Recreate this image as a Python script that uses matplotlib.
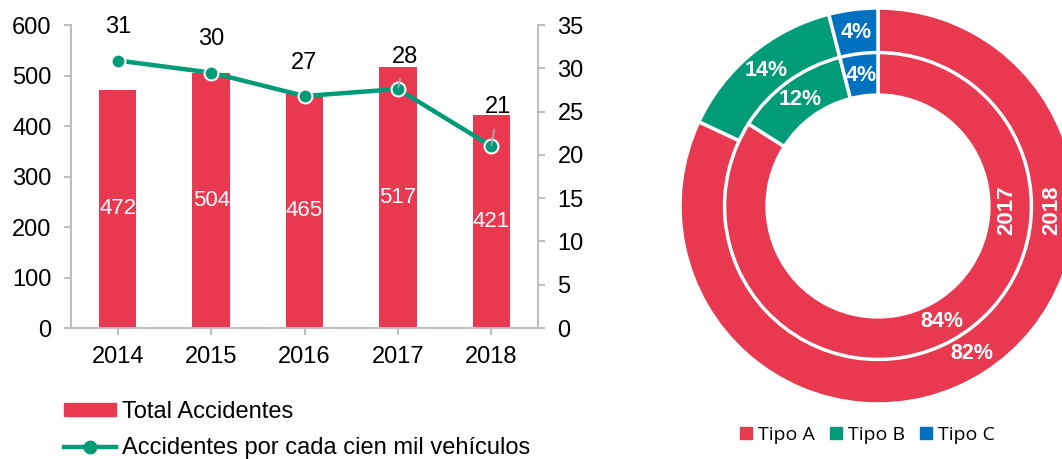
import matplotlib
matplotlib.use('Agg')
import matplotlib.pyplot as plt
from matplotlib.patches import Patch
from matplotlib.lines import Line2D

plt.rcParams['font.family'] = ['Liberation Sans', 'DejaVu Sans']

# data
years = ['2014', '2015', '2016', '2017', '2018']
total_accidentes = [472, 504, 465, 517, 421]
tasa = [30.9, 29.5, 26.8, 27.6, 21.0]
tasa_labels = ['31', '30', '27', '28', '21']

tipos = ['Tipo A', 'Tipo B', 'Tipo C']
share_2018 = [82, 14, 4]
share_2017 = [84, 12, 4]

red = '#E93950'
green = '#009B77'
blue = '#0070C0'
grey = '#BFBFBF'

fig = plt.figure(figsize=(10.62, 4.59), dpi=100)

# bars + line
ax1 = fig.add_axes([0.0669, 0.2854, 0.4397, 0.6601])
x = range(len(years))
bars = ax1.bar(x, total_accidentes, width=0.4, color=red, zorder=2)
ax1.bar_label(bars, labels=[str(v) for v in total_accidentes], label_type='center',
              color='white', fontsize=16)
ax1.set_ylim(0, 600)
ax1.set_xlim(-0.5, 4.5)
ax1.set_yticks(range(0, 601, 100))
ax1.set_xticks(list(x))
ax1.set_xticklabels(years)
for s in ['top', 'right']:
    ax1.spines[s].set_visible(False)
for s in ['left', 'bottom']:
    ax1.spines[s].set_color(grey)
    ax1.spines[s].set_linewidth(1.5)
ax1.tick_params(axis='y', colors=grey, labelcolor='black', labelsize=17, length=5, width=1.5, pad=9)
ax1.tick_params(axis='x', colors=grey, labelcolor='black', labelsize=17, length=5, width=1.5, pad=8)

ax2 = ax1.twinx()
ax2.plot(x, tasa, color=green, lw=3.2, marker='o', markersize=10,
         markerfacecolor=green, markeredgecolor='white', markeredgewidth=1.5, zorder=3)
ax2.set_ylim(0, 35)
ax2.set_yticks(range(0, 36, 5))
for s in ['top', 'left', 'bottom']:
    ax2.spines[s].set_visible(False)
ax2.spines['right'].set_color(grey)
ax2.spines['right'].set_linewidth(1.5)
ax2.tick_params(axis='y', colors=grey, labelcolor='black', labelsize=17, length=5, width=1.5, pad=9)

offsets = [(0, 24), (0, 24), (0, 24), (5, 23), (5, 28)]
for i, (v, lab) in enumerate(zip(tasa, tasa_labels)):
    leader = i >= 3
    ax2.annotate(lab, (i, v), xytext=offsets[i], textcoords='offset points',
                 ha='center', va='center', fontsize=17, zorder=5,
                 arrowprops=dict(arrowstyle='-', color='#A6A6A6', lw=1.3,
                                 shrinkA=6, shrinkB=1) if leader else None)

handles = [Patch(color=red),
           Line2D([0], [0], color=green, lw=3.2, marker='o', markersize=9)]
fig.legend(handles, ['Total Accidentes', 'Accidentes por cada cien mil veh\u00edculos'],
           loc='upper left', bbox_to_anchor=(0.060, 0.127), frameon=False,
           fontsize=17, handlelength=2.2, handleheight=0.45, handletextpad=0.25,
           labelspacing=0.62, borderpad=0, borderaxespad=0)

# donut
ax3 = fig.add_axes([680 / 1062, 55 / 459, 396 / 1062, 396 / 459])
cols = [red, green, blue]
wp = dict(edgecolor='white', linewidth=2.5)
tp = dict(color='white', fontsize=15.5, fontweight='bold')
ax3.pie(share_2018, radius=1.0, colors=cols, startangle=90, counterclock=False,
        wedgeprops=dict(width=0.23, **wp), autopct='%d%%', pctdistance=0.885,
        textprops=tp)
ax3.pie(share_2017, radius=0.775, colors=cols, startangle=90, counterclock=False,
        wedgeprops=dict(width=0.215, **wp), autopct='%d%%', pctdistance=0.86,
        textprops=tp)
ax3.set_xlim(-1, 1)
ax3.set_ylim(-1, 1)
ax3.set_aspect('equal')
ax3.axis('off')
ax3.text(0.652, -0.02, '2017', rotation=90, ha='center', va='center',
         color='white', fontsize=16, fontweight='bold')
ax3.text(0.88, -0.02, '2018', rotation=90, ha='center', va='center',
         color='white', fontsize=16, fontweight='bold')

leg_h = [Line2D([0], [0], marker='s', color='none', markerfacecolor=c,
                markeredgecolor=c, markersize=8) for c in cols]
fig.legend(leg_h, tipos, loc='center', bbox_to_anchor=(867 / 1062, 1 - 435 / 459),
           ncol=3, frameon=False, prop={'family': 'Open Sans', 'size': 14},
           handlelength=0.7, handletextpad=0.3, columnspacing=0.7)

fig.savefig('out.png', dpi=100)
